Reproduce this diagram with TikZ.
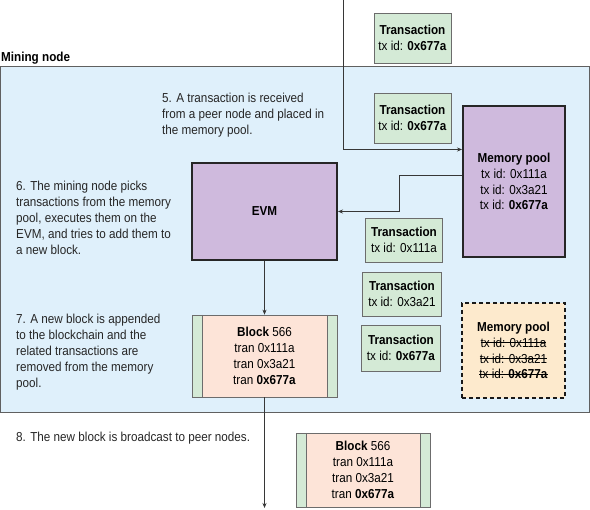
\documentclass[tikz,border=0pt]{standalone}
\usepackage{fontspec}
\setmainfont{Liberation Sans}[FakeStretch=0.9]
\usetikzlibrary{arrows.meta,positioning}
\definecolor{mnblue}{RGB}{223,240,251}
\definecolor{mngreen}{RGB}{212,234,214}
\definecolor{mnpurple}{RGB}{207,186,221}
\definecolor{mnpeach}{RGB}{253,228,216}
\definecolor{mnorange}{RGB}{253,234,205}
\definecolor{mnline}{RGB}{55,55,55}
\newsavebox\mnbox
\newcommand\mnstrike[1]{\sbox\mnbox{#1}\rlap{\usebox\mnbox}\rule[0.33em]{\wd\mnbox}{0.7pt}}
\tikzstyle{arrow} = [semithick,-{Stealth[length=5pt,width=4pt]},color=mnline]
\tikzstyle{txbox} = [rectangle, draw=gray!85!black, fill=mngreen, semithick, align=center, minimum width=77pt, minimum height=46pt, inner sep=2pt]
\tikzstyle{poolbox} = [rectangle, draw=black!85, fill=mnpurple, line width=2pt, align=center, inner sep=2pt]

\begin{document}
\begin{tikzpicture}[x=1pt, y=-1pt,
    font=\fontsize{13}{15.9}\selectfont,
    note/.style={align=left, anchor=north west, inner sep=0pt, text=black!85},
    blockbox/.style={rectangle, draw=gray!85!black, fill=mnpeach, semithick, align=center, inner sep=2pt,
      path picture={
        \fill[mngreen] (path picture bounding box.north west) rectangle ([xshift=10pt]path picture bounding box.south west);
        \fill[mngreen] (path picture bounding box.north east) rectangle ([xshift=-10pt]path picture bounding box.south east);
        \draw[gray!85!black, semithick] ([xshift=10pt]path picture bounding box.north west) -- ([xshift=10pt]path picture bounding box.south west);
        \draw[gray!85!black, semithick] ([xshift=-10pt]path picture bounding box.north east) -- ([xshift=-10pt]path picture bounding box.south east);
      }}]
\useasboundingbox (0,0) rectangle (590,510);

% Mining node frame
\draw[fill=mnblue, draw=gray!75!black, thick] (0,66) rectangle (589,412);
\node[anchor=south west, inner sep=1pt, font=\fontsize{13}{14}\selectfont\bfseries] (mining) at (0,65) {Mining node};

% Incoming transaction
\coordinate (peer) at (343,0);
\node[txbox, minimum height=50pt] (txpeer) at (412.5,38) {\textbf{Transaction}\\tx id: \textbf{0x677a}};
\node[txbox, minimum height=50pt] (txrecv) at (412.5,118) {\textbf{Transaction}\\tx id: \textbf{0x677a}};

% Memory pool and EVM
\node[poolbox, minimum width=102pt, minimum height=151pt] (mempool) at (514,181.5) {\textbf{Memory pool}\\tx id: 0x111a\\tx id: 0x3a21\\tx id: \textbf{0x677a}};
\node[poolbox, minimum width=145pt, minimum height=97pt] (evm) at (264.5,211.5) {\textbf{EVM}};

% Picked transactions
\node[txbox, minimum height=44pt] (tx1) at (404,240) {\textbf{Transaction}\\tx id: 0x111a};
\node[txbox, minimum width=79pt, minimum height=44pt] (tx2) at (402,294) {\textbf{Transaction}\\tx id: 0x3a21};
\node[txbox, minimum width=79pt, minimum height=46pt] (tx3) at (401,348) {\textbf{Transaction}\\tx id: \textbf{0x677a}};

% Emptied memory pool
\node[rectangle, draw=black!90, fill=mnorange, line width=2pt, dash pattern=on 4pt off 3pt, align=center,
  minimum width=103pt, minimum height=95pt] (oldpool) at (513.5,350.5)
  {\textbf{Memory pool}\\\mnstrike{tx id: 0x111a}\\\mnstrike{tx id: 0x3a21}\\\mnstrike{tx id: \textbf{0x677a}}};

% Blocks
\node[blockbox, minimum width=145pt, minimum height=82pt] (block) at (264.5,356) {\textbf{Block} 566\\tran 0x111a\\tran 0x3a21\\tran \textbf{0x677a}};
\node[blockbox, minimum width=134pt, minimum height=74pt] (peerblock) at (363,470) {\textbf{Block} 566\\tran 0x111a\\tran 0x3a21\\tran \textbf{0x677a}};
\coordinate (out) at (264.5,508);

% Steps
\node[note] (step5) at (162,93) {5. A transaction is received\\from a peer node and placed in\\the memory pool.};
\node[note] (step6) at (16,181) {6. The mining node picks\\transactions from the memory\\pool, executes them on the\\EVM, and tries to add them to\\a new block.};
\node[note] (step7) at (16,314) {7. A new block is appended\\to the blockchain and the\\related transactions are\\removed from the memory\\pool.};
\node[note] (step8) at (16,432) {8. The new block is broadcast to peer nodes.};

% Connections
\draw[arrow] (peer) |- ([yshift=32pt]mempool.west);
\draw[arrow] ([yshift=6pt]mempool.west) -- ++(-63,0) |- (evm.east);
\draw[arrow] (evm) -- (block);
\draw[arrow] (block) -- (out);
\end{tikzpicture}
\end{document}
